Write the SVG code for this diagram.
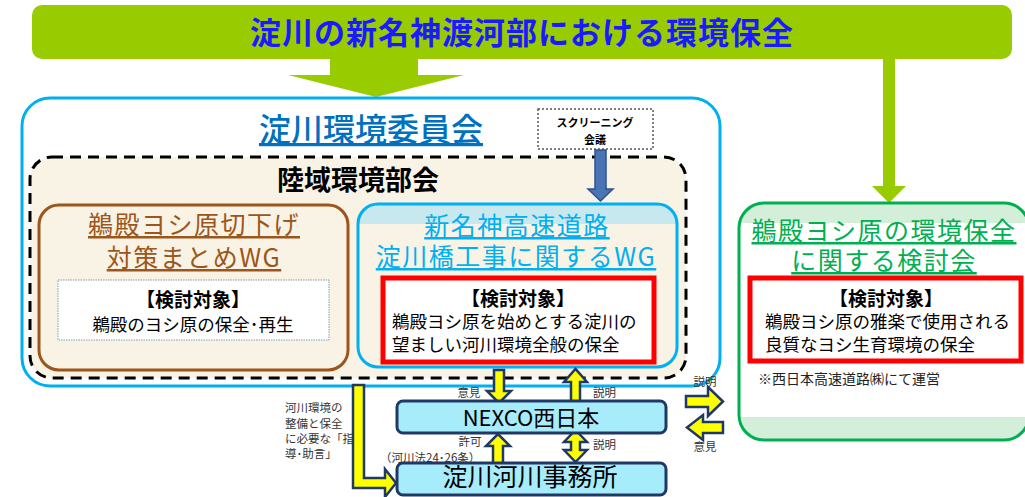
<svg xmlns="http://www.w3.org/2000/svg" width="1025" height="497" viewBox="0 0 1025 497">
<style>
text{font-family:"Noto Sans CJK JP","Noto Sans",sans-serif;}
.ya{fill:#ffff00;stroke:#1f3864;stroke-width:2.5;stroke-linejoin:miter;}
.ul{text-decoration:underline;}
.lbl{font-size:11.5px;fill:#333;}
.tt{font-size:19px;font-weight:bold;fill:#000;text-anchor:middle;}
.bd{font-size:17.5px;fill:#000;}
.nav{fill:#a6ecfa;stroke:#1f3864;stroke-width:3;}
.ttl{font-size:25px;letter-spacing:1.5px;}
</style>
<rect width="1025" height="497" fill="#fff"/>

<g id="banner">
<rect x="32" y="5" width="980" height="54" rx="10" fill="#99cc00"/>
<polygon points="330,58 418,58 418,75 464,75 376,97 288,75 330,75" fill="#99cc00"/>
<polygon points="883,58 895,58 895,186 906,186 889,203 872,186 883,186" fill="#99cc00"/>
<text x="522" y="44" text-anchor="middle" font-size="31" font-weight="bold" fill="#1a1aff" letter-spacing="1">淀川の新名神渡河部における環境保全</text>
</g>

<g id="committee">
<rect x="22" y="98" width="698" height="288" rx="28" fill="#fff" stroke="#00b0f0" stroke-width="3"/>
<text x="371" y="141" text-anchor="middle" font-size="32" font-weight="500" fill="#0070c0" class="ul">淀川環境委員会</text>
</g>

<g id="subcommittee">
<rect x="30" y="157" width="656" height="221" rx="22" fill="#f8f3e5" stroke="#000" stroke-width="3" stroke-dasharray="11,7"/>
<text x="358" y="190" text-anchor="middle" font-size="27" font-weight="bold" fill="#000">陸域環境部会</text>
</g>

<g id="screening">
<rect x="538" y="109" width="115" height="40" fill="#fff" stroke="#555" stroke-width="1.5" stroke-dasharray="2,2"/>
<text x="595" y="127" text-anchor="middle" font-size="11" font-weight="bold">スクリーニング</text>
<text x="595" y="144" text-anchor="middle" font-size="11" font-weight="bold">会議</text>
</g>

<g id="wg-brown">
<rect x="39" y="205" width="309" height="165" rx="20" fill="#f8f3e5" stroke="#9c561b" stroke-width="3"/>
<text x="194" y="234" text-anchor="middle" fill="#9c561b" class="ul ttl">鵜殿ヨシ原切下げ</text>
<text x="194" y="267" text-anchor="middle" fill="#9c561b" class="ul ttl">対策まとめWG</text>
<rect x="58" y="280" width="271" height="60" fill="#fff" stroke="#8a9aa8" stroke-width="1" stroke-dasharray="1.5,1"/>
<text x="193" y="307" class="tt">【検討対象】</text>
<text x="193" y="331" class="bd" text-anchor="middle" font-size="18">鵜殿のヨシ原の保全･再生</text>
</g>

<g id="wg-blue">
<path d="M358,224 V224 A20,20 0 0 1 378,204 H657 A20,20 0 0 1 677,224 Z" fill="#c8e8f0"/>
<rect x="358" y="204" width="319" height="163" rx="20" fill="none" stroke="#00b0f0" stroke-width="3"/>
<text x="517" y="235" text-anchor="middle" fill="#00b0f0" class="ul ttl">新名神高速道路</text>
<text x="516" y="266" text-anchor="middle" fill="#00b0f0" class="ul ttl">淀川橋工事に関するWG</text>
<rect x="383" y="278" width="271" height="84" fill="#fff" stroke="#ff0000" stroke-width="5"/>
<text x="518" y="306" class="tt">【検討対象】</text>
<text x="392" y="328" class="bd">鵜殿ヨシ原を始めとする淀川の</text>
<text x="392" y="351" class="bd">望ましい河川環境全般の保全</text>
</g>

<g id="kentoukai">
<path d="M739,223 V228 A25,25 0 0 1 764,203 H1004 A25,25 0 0 1 1029,228 V223 Z" fill="#d3efd9"/>
<path d="M739,417 H1029 V415 A25,25 0 0 1 1004,440 H764 A25,25 0 0 1 739,415 Z" fill="#d3efd9"/>
<rect x="739" y="203" width="290" height="237" rx="25" fill="none" stroke="#00b050" stroke-width="3"/>
<text x="884" y="240" text-anchor="middle" fill="#00b050" class="ul ttl">鵜殿ヨシ原の環境保全</text>
<text x="884" y="270" text-anchor="middle" fill="#00b050" class="ul ttl">に関する検討会</text>
<rect x="750" y="278" width="271" height="83" fill="#fff" stroke="#ff0000" stroke-width="5"/>
<text x="886" y="306" class="tt">【検討対象】</text>
<text x="765" y="328" class="bd">鵜殿ヨシ原の雅楽で使用される</text>
<text x="765" y="351" class="bd">良質なヨシ生育環境の保全</text>
<text x="758" y="384" font-size="14" fill="#222">※西日本高速道路㈱にて運営</text>
</g>

<g id="connectors">
<polygon points="595,150 606,150 606,189 613,189 600.5,201 588,189 595,189" fill="#4a75b5" stroke="#2f528f" stroke-width="1.5"/>
<polygon class="ya" points="494,370 504,370 504,391 511,391 499,403 487,391 494,391"/>
<polygon class="ya" points="580,405 571,405 571,382 564,382 575.5,369 587,382 580,382"/>
<polygon class="ya" points="503,466 493,466 493,446 486,446 498,434 510,446 503,446"/>
<polygon class="ya" points="575.5,430 587,442 580,442 580,450 587,450 575.5,462 564,450 571,450 571,442 564,442"/>
<polygon class="ya" points="353,385 364,385 364,478 385,478 385,469 396,483 385,497 385,488 353,488"/>
<polygon class="ya" points="686,396 708,396 708,387 723,401.5 708,416 708,407 686,407"/>
<polygon class="ya" points="723,422 703,422 703,415 687,427.5 703,440 703,433 723,433"/>
<text class="lbl" x="469" y="397" text-anchor="middle">意見</text>
<text class="lbl" x="593" y="397">説明</text>
<text class="lbl" x="470" y="446" text-anchor="middle">許可</text>
<text class="lbl" x="380" y="462">（河川法24･26条）</text>
<text class="lbl" x="593" y="449">説明</text>
<text class="lbl" x="705" y="386" text-anchor="middle">説明</text>
<text class="lbl" x="705" y="451" text-anchor="middle">意見</text>
<text class="lbl" x="285" y="412">河川環境の</text>
<text class="lbl" x="285" y="428">整備と保全</text>
<text class="lbl" x="285" y="443">に必要な「指</text>
<text class="lbl" x="285" y="458">導･助言」</text>
</g>

<g id="nexco">
<rect class="nav" x="397" y="401" width="269" height="32" rx="6"/>
<text x="531" y="426" text-anchor="middle" font-size="22" fill="#000">NEXCO西日本</text>
</g>
<g id="office">
<rect class="nav" x="397" y="463" width="269" height="32" rx="6"/>
<text x="530" y="486" text-anchor="middle" font-size="25" fill="#000">淀川河川事務所</text>
</g>
</svg>
